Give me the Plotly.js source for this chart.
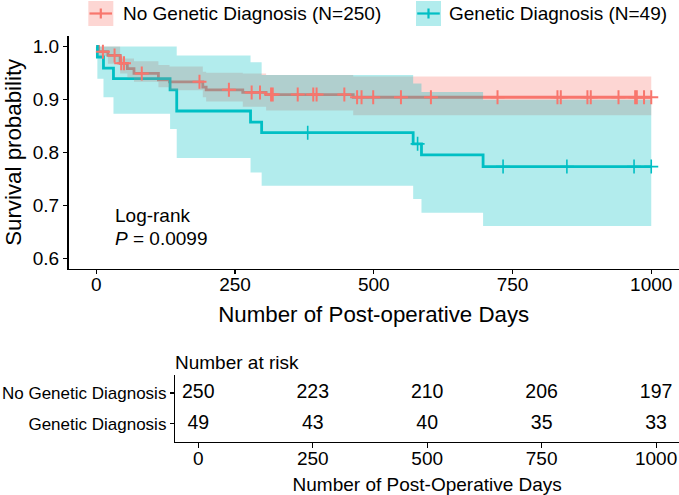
<!DOCTYPE html>
<html>
<head>
<meta charset="utf-8">
<script src="https://cdn.plot.ly/plotly-3.0.1.min.js"></script>
<style>html,body{margin:0;padding:0;background:#fff;}#chart{width:679px;height:495px;}</style>
</head>
<body>
<div id="chart"></div>
<script>
// ---- Data ----
const groupNames = ["No Genetic Diagnosis", "Genetic Diagnosis"];
const groupN = [250, 49];

// No Genetic Diagnosis: Kaplan-Meier steps
const noGenTime  = [0, 4, 21, 43, 56, 68, 112, 132, 192, 198, 264, 306, 463, 1000];
const noGenSurv  = [1.0, 0.990, 0.983, 0.968, 0.958, 0.949, 0.937, 0.933, 0.923, 0.918, 0.913, 0.909, 0.904, 0.904];
const noGenUpper = [1.0, 1.0, 1.0, 0.977, 0.977, 0.972, 0.965, 0.962, 0.952, 0.950, 0.949, 0.946, 0.943, 0.943];
const noGenLower = [1.0, 0.982, 0.967, 0.949, 0.941, 0.933, 0.923, 0.917, 0.904, 0.896, 0.886, 0.879, 0.870, 0.870];
const noGenCensor = [12, 33, 45, 50, 82, 186, 239, 280, 295, 315, 318, 363, 391, 397, 447, 470, 478, 499, 549, 603, 723, 831, 837, 885, 891, 941, 971, 974, 987, 1000];

// Genetic Diagnosis: Kaplan-Meier steps
const genTime  = [0, 2, 13, 31, 133, 145, 278, 298, 571, 586, 697, 1000];
const genSurv  = [1.0, 0.980, 0.959, 0.939, 0.918, 0.878, 0.857, 0.837, 0.816, 0.795, 0.773, 0.773];
const genUpper = [1.0, 1.0, 1.0, 1.0, 1.0, 0.983, 0.970, 0.946, 0.930, 0.914, 0.899, 0.899];
const genLower = [1.0, 0.939, 0.904, 0.873, 0.844, 0.789, 0.762, 0.737, 0.712, 0.686, 0.661, 0.661];
const genCensor = [381, 579, 733, 848, 969, 1000];

// Risk table
const riskTimes = [0, 250, 500, 750, 1000];
const riskNoGen = [250, 223, 210, 206, 197];
const riskGen   = [49, 43, 40, 35, 33];

const xTicks = [0, 250, 500, 750, 1000];
const yTicks = [0.6, 0.7, 0.8, 0.9, 1.0];
const yTickText = ["0.6", "0.7", "0.8", "0.9", "1.0"];
const pValueText = "0.0099";

// ---- Styling ----
const RED = "#F8766D", TEAL = "#00BFC4";
const RED_FILL = "rgba(248,118,109,0.3)", TEAL_FILL = "rgba(0,191,196,0.3)";
const FONT = "'Liberation Sans', Arial, Helvetica, sans-serif";
const W = 679, H = 495;
const px = x => x / W;
const py = y => 1 - y / H;

function stepAt(times, vals, t) {
  let v = vals[0];
  for (let i = 0; i < times.length; i++) { if (times[i] <= t) v = vals[i]; }
  return v;
}

const traces = [];
// curves
traces.push({x: noGenTime, y: noGenSurv, mode: "lines", line: {shape: "hv", color: RED, width: 2.8}, showlegend: false, hoverinfo: "skip", xaxis: "x", yaxis: "y"});
traces.push({x: genTime, y: genSurv, mode: "lines", line: {shape: "hv", color: TEAL, width: 2.8}, showlegend: false, hoverinfo: "skip", xaxis: "x", yaxis: "y"});
// confidence bands
traces.push({x: noGenTime, y: noGenUpper, mode: "lines", line: {shape: "hv", width: 0, color: RED}, showlegend: false, hoverinfo: "skip", xaxis: "x", yaxis: "y"});
traces.push({x: noGenTime, y: noGenLower, mode: "lines", line: {shape: "hv", width: 0, color: RED}, fill: "tonexty", fillcolor: RED_FILL, showlegend: false, hoverinfo: "skip", xaxis: "x", yaxis: "y"});
traces.push({x: genTime, y: genUpper, mode: "lines", line: {shape: "hv", width: 0, color: TEAL}, showlegend: false, hoverinfo: "skip", xaxis: "x", yaxis: "y"});
traces.push({x: genTime, y: genLower, mode: "lines", line: {shape: "hv", width: 0, color: TEAL}, fill: "tonexty", fillcolor: TEAL_FILL, showlegend: false, hoverinfo: "skip", xaxis: "x", yaxis: "y"});
// censor marks
traces.push({x: noGenCensor, y: noGenCensor.map(t => stepAt(noGenTime, noGenSurv, t)), mode: "markers",
  marker: {symbol: "cross-thin-open", size: 10, line: {color: RED, width: 2}, color: RED}, showlegend: false, hoverinfo: "skip", xaxis: "x", yaxis: "y"});
traces.push({x: genCensor, y: genCensor.map(t => stepAt(genTime, genSurv, t)), mode: "markers",
  marker: {symbol: "cross-thin-open", size: 10, line: {color: TEAL, width: 1.6}, color: TEAL}, showlegend: false, hoverinfo: "skip", xaxis: "x", yaxis: "y"});
// risk table
traces.push({x: riskTimes, y: riskTimes.map(() => groupNames[0]), text: riskNoGen.map(String), mode: "text",
  textfont: {family: FONT, size: 19.5, color: "#000"}, showlegend: false, hoverinfo: "skip", xaxis: "x2", yaxis: "y2"});
traces.push({x: riskTimes, y: riskTimes.map(() => groupNames[1]), text: riskGen.map(String), mode: "text",
  textfont: {family: FONT, size: 19.5, color: "#000"}, showlegend: false, hoverinfo: "skip", xaxis: "x2", yaxis: "y2"});

const axisCommon = {showgrid: false, zeroline: false, showline: true, linecolor: "#000", linewidth: 1.1,
  ticks: "outside", ticklen: 4.5, tickwidth: 1.1, tickcolor: "#000", fixedrange: true};

const layout = {
  width: W, height: H,
  margin: {l: 0, r: 0, t: 0, b: 0},
  paper_bgcolor: "#fff", plot_bgcolor: "#fff",
  font: {family: FONT, color: "#000"},
  showlegend: false,
  xaxis: Object.assign({}, axisCommon, {
    domain: [px(68.5), 1], range: [-50, 1050], tickvals: xTicks, ticktext: xTicks.map(String),
    tickfont: {size: 19, family: FONT, color: "#000"}, anchor: "y", ticklabelstandoff: -6,
    title: {text: "Number of Post-operative Days", font: {size: 22.3, family: FONT, color: "#000"}, standoff: 12}
  }),
  yaxis: Object.assign({}, axisCommon, {
    domain: [py(268.8), py(35.8)], range: [0.58, 1.02], tickvals: yTicks, ticktext: yTickText,
    tickfont: {size: 19, family: FONT, color: "#000"}, anchor: "x",
    title: {text: "Survival probability", font: {size: 22.3, family: FONT, color: "#000"}, standoff: 4}
  }),
  xaxis2: Object.assign({}, axisCommon, {
    domain: [px(175.4), 1], range: [-50, 1050], tickvals: xTicks, ticktext: xTicks.map(String),
    tickfont: {size: 19, family: FONT, color: "#000"}, anchor: "y2", ticklabelstandoff: -6,
    title: {text: "Number of Post-Operative Days", font: {size: 19, family: FONT, color: "#000"}, standoff: 10}
  }),
  yaxis2: Object.assign({}, axisCommon, {
    domain: [py(442.3), py(374.5)], type: "category", categoryorder: "array",
    categoryarray: [groupNames[1], groupNames[0]], range: [-0.6, 1.6],
    tickfont: {size: 17, family: FONT, color: "#000"}, anchor: "x2"
  }),
  shapes: [
    // legend keys
    {type: "rect", xref: "paper", yref: "paper", x0: px(88.3), x1: px(113.3), y0: py(26), y1: py(1), fillcolor: RED_FILL, line: {width: 0}},
    {type: "line", xref: "paper", yref: "paper", x0: px(89.5), x1: px(112), y0: py(13.5), y1: py(13.5), line: {color: RED, width: 2.2}},
    {type: "line", xref: "paper", yref: "paper", x0: px(100.8), x1: px(100.8), y0: py(8.5), y1: py(18.5), line: {color: RED, width: 2.2}},
    {type: "rect", xref: "paper", yref: "paper", x0: px(416), x1: px(441), y0: py(26), y1: py(1), fillcolor: TEAL_FILL, line: {width: 0}},
    {type: "line", xref: "paper", yref: "paper", x0: px(417.2), x1: px(439.8), y0: py(13.5), y1: py(13.5), line: {color: TEAL, width: 2.2}},
    {type: "line", xref: "paper", yref: "paper", x0: px(428.5), x1: px(428.5), y0: py(8.5), y1: py(18.5), line: {color: TEAL, width: 2.2}}
  ],
  annotations: [
    {xref: "paper", yref: "paper", x: px(121), y: py(13.5), xanchor: "left", yanchor: "middle", showarrow: false,
     text: groupNames[0] + " (N=" + groupN[0] + ")", font: {size: 19, family: FONT, color: "#000"}},
    {xref: "paper", yref: "paper", x: px(447.3), y: py(13.5), xanchor: "left", yanchor: "middle", showarrow: false,
     text: groupNames[1] + " (N=" + groupN[1] + ")", font: {size: 19, family: FONT, color: "#000"}},
    {xref: "paper", yref: "paper", x: px(113), y: py(215), xanchor: "left", yanchor: "middle", showarrow: false,
     text: "Log-rank", font: {size: 19, family: FONT, color: "#000"}},
    {xref: "paper", yref: "paper", x: px(113), y: py(238), xanchor: "left", yanchor: "middle", showarrow: false,
     text: "<i>P</i> = " + pValueText, font: {size: 19, family: FONT, color: "#000"}},
    {xref: "paper", yref: "paper", x: px(173), y: py(362), xanchor: "left", yanchor: "middle", showarrow: false,
     text: "Number at risk", font: {size: 19, family: FONT, color: "#000"}}
  ]
};

Plotly.newPlot("chart", traces, layout, {staticPlot: true, displayModeBar: false});
</script>
</body>
</html>
